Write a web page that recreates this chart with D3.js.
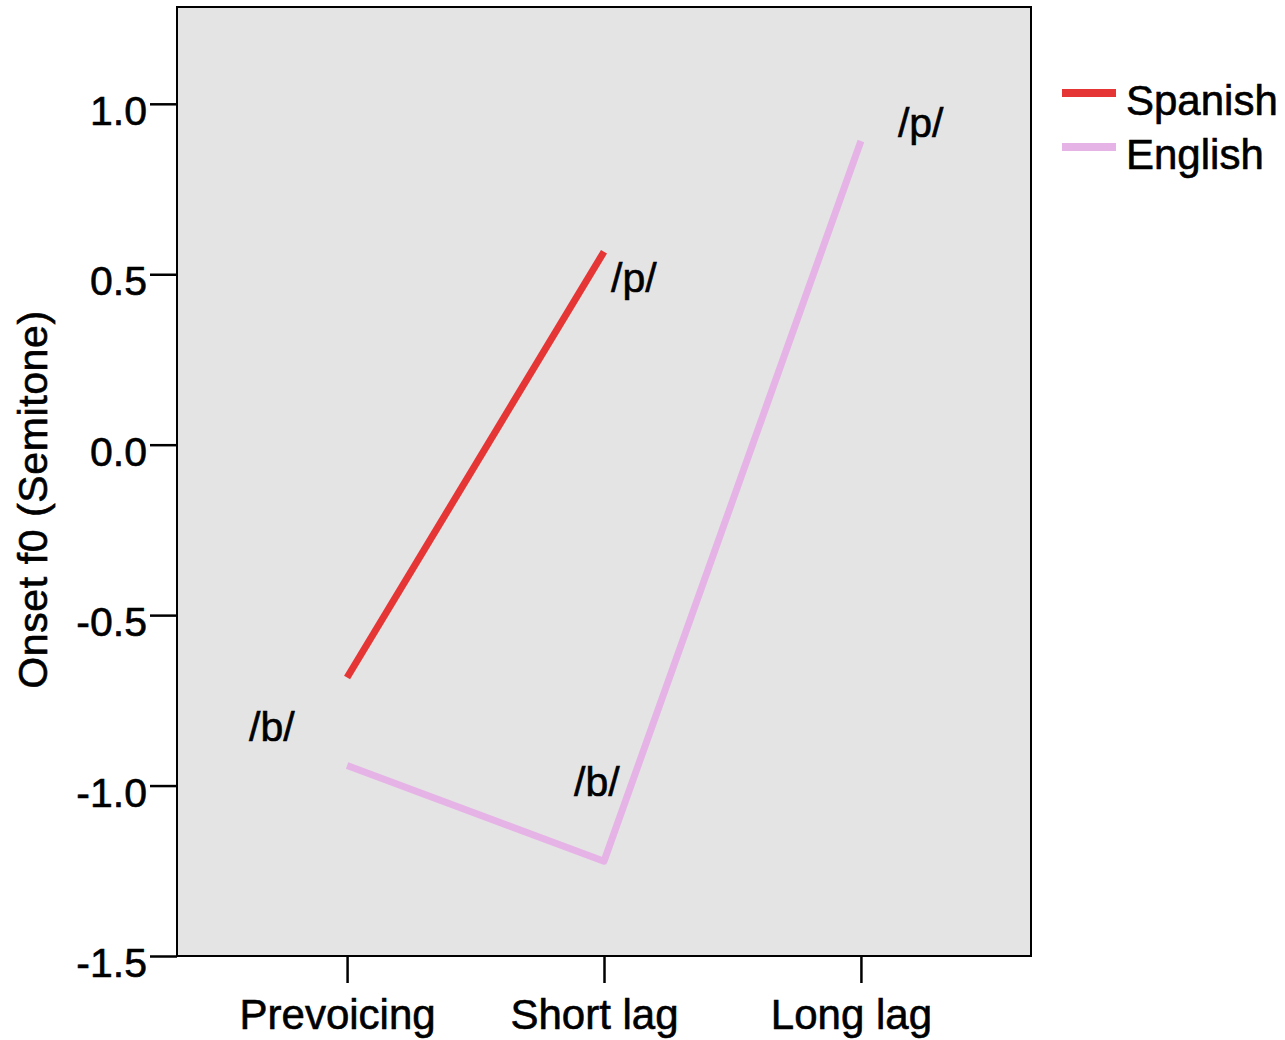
<!DOCTYPE html>
<html>
<head>
<meta charset="utf-8">
<script src="https://cdn.jsdelivr.net/npm/d3@7"></script>
<style>
  html, body { margin: 0; padding: 0; background: #fff; }
  svg { display: block; }
  text { font-family: "Liberation Sans", Arial, sans-serif; fill: #000; stroke: #000; stroke-width: 0.6px; }
</style>
</head>
<body>
<svg id="chart" width="1285" height="1040"></svg>
<script>
// ---- data ----
const categories = ["Prevoicing", "Short lag", "Long lag"];
const seriesNames = ["Spanish", "English"];
const spanishValues = [-0.683, 0.566, null];
const englishValues = [-0.941, -1.222, 0.891];
const yTicks = [1.0, 0.5, 0.0, -0.5, -1.0, -1.5];
const yTickLabels = ["1.0", "0.5", "0.0", "-0.5", "-1.0", "-1.5"];
const pointLabels = [
  { series: "Spanish", category: "Short lag", text: "/p/" },
  { series: "English", category: "Long lag", text: "/p/" },
  { series: "English", category: "Prevoicing", text: "/b/" },
  { series: "English", category: "Short lag", text: "/b/" }
];
const yTitle = "Onset f0 (Semitone)";

// ---- style ----
const colors = { Spanish: "#e53535", English: "#e6b3e6" };
const labelOffsets = [[7, 40], [37, -4], [-98, -24], [-30, -65]];
const margin = { left: 177, top: 7, right: 1031, bottom: 956 };

const svg = d3.select("#chart");
const x = d3.scalePoint().domain(categories)
  .range([margin.left, margin.right]).padding(0.662);
const y = d3.scaleLinear().domain([-1.5, 1.284]).range([margin.bottom, margin.top]);

// plot background
svg.append("rect")
  .attr("x", margin.left).attr("y", margin.top)
  .attr("width", margin.right - margin.left)
  .attr("height", margin.bottom - margin.top)
  .attr("fill", "#e4e4e4");

// y axis
const yAxis = d3.axisLeft(y).tickValues(yTicks)
  .tickFormat((d, i) => yTickLabels[i]).tickSize(27).tickPadding(3);
const gy = svg.append("g").attr("transform", `translate(${margin.left},0)`).call(yAxis);
gy.select(".domain").remove();
gy.selectAll(".tick line").attr("stroke", "#000").attr("stroke-width", 2.5);
gy.selectAll(".tick text").attr("font-size", 41).attr("dy", "0.5em")
  .style("font-family", "'Liberation Sans', Arial, sans-serif");

// x axis
const xAxis = d3.axisBottom(x).tickSize(27).tickPadding(14);
const gx = svg.append("g").attr("transform", `translate(0,${margin.bottom})`).call(xAxis);
gx.select(".domain").remove();
gx.selectAll(".tick line").attr("stroke", "#000").attr("stroke-width", 2.5);
gx.selectAll(".tick text").attr("font-size", 42).attr("dx", -10).attr("dy", "0.76em")
  .style("font-family", "'Liberation Sans', Arial, sans-serif");

// border on top
svg.append("rect")
  .attr("x", margin.left).attr("y", margin.top)
  .attr("width", margin.right - margin.left)
  .attr("height", margin.bottom - margin.top)
  .attr("fill", "none")
  .attr("stroke", "#000").attr("stroke-width", 2);

// y title
svg.append("text")
  .attr("transform", `translate(47,${(margin.top + margin.bottom) / 2 + 18}) rotate(-90)`)
  .attr("text-anchor", "middle")
  .attr("font-size", 41)
  .attr("letter-spacing", 0.6)
  .text(yTitle);

// lines
const seriesData = { Spanish: spanishValues, English: englishValues };
const line = d3.line()
  .defined(d => d.v !== null)
  .x(d => x(d.c)).y(d => y(d.v));
seriesNames.slice().reverse().forEach(s => {
  const pts = categories.map((c, i) => ({ c, v: seriesData[s][i] }));
  svg.append("path")
    .datum(pts)
    .attr("d", line)
    .attr("fill", "none")
    .attr("stroke", colors[s])
    .attr("stroke-width", 7)
    .attr("stroke-linecap", "butt")
    .attr("stroke-linejoin", "round");
});

// point labels
pointLabels.forEach((p, i) => {
  const v = seriesData[p.series][categories.indexOf(p.category)];
  svg.append("text")
    .attr("x", x(p.category) + labelOffsets[i][0])
    .attr("y", y(v) + labelOffsets[i][1])
    .attr("font-size", 41)
    .text(p.text);
});

// legend
seriesNames.forEach((s, i) => {
  const ly = 93 + i * 54;
  svg.append("line")
    .attr("x1", 1062).attr("x2", 1116)
    .attr("y1", ly).attr("y2", ly)
    .attr("stroke", colors[s]).attr("stroke-width", 8);
  svg.append("text")
    .attr("x", 1126).attr("y", ly + 22)
    .attr("font-size", 42)
    .text(s);
});
</script>
</body>
</html>
